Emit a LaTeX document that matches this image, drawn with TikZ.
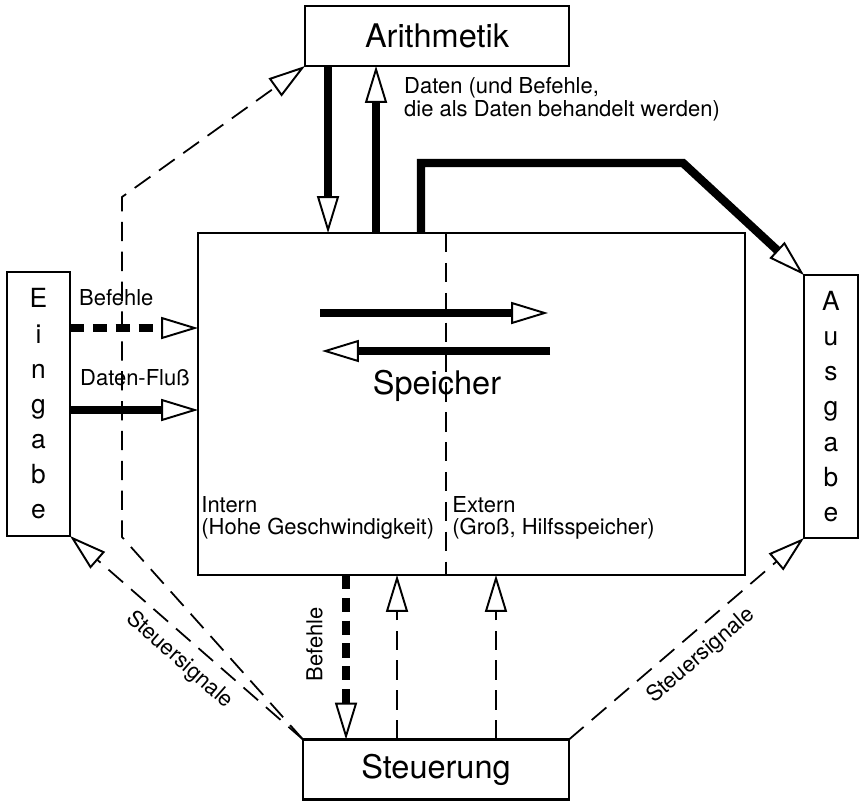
\documentclass[tikz,border=0pt]{standalone}
\usepackage{fontspec}
\setmainfont{TeX Gyre Heros}
\usetikzlibrary{arrows.meta, positioning}

\begin{document}
\begin{tikzpicture}[x=0.02cm, y=-0.02cm,
  unitbox/.style={draw, line width=1.2pt, inner sep=0pt, outer sep=0pt, font=\fontsize{18.5}{20}\selectfont},
  letterbox/.style={draw, line width=1.2pt, inner sep=0pt, outer sep=0pt, align=center, font=\fontsize{15}{20}\selectfont},
  openhead/.style={-{Triangle[length=21pt, width=12.5pt, fill=white, line width=1.1pt]}},
  dataflow/.style={openhead, line width=4.8pt},
  cmdflow/.style={openhead, line width=4.8pt, dash pattern=on 8pt off 5pt},
  ctrlsig/.style={openhead, line width=1pt, dash pattern=on 11pt off 6pt},
  smalltext/.style={inner sep=0pt, align=left, font=\fontsize{12.5}{13}\selectfont}]
  \useasboundingbox (0,0) rectangle (861,801);

  % Einheiten
  \node[unitbox, minimum width=5.28cm, minimum height=1.2cm] (arith) at (437,36) {Arithmetik};
  \node[unitbox, minimum width=10.94cm, minimum height=6.84cm] (speicher) at (471.5,404) {};
  \node[font=\fontsize{18.5}{20}\selectfont] (speichername) at (437,386) {Speicher};
  \node[unitbox, minimum width=5.32cm, minimum height=1.2cm] (steuer) at (436,769.5) {Steuerung};
  \node[letterbox, minimum width=1.26cm, minimum height=5.28cm] (eingabe) at (38.5,404) {E\\i\\n\\g\\a\\b\\e};
  \node[letterbox, minimum width=1.08cm, minimum height=5.26cm] (ausgabe) at (831,406.5) {A\\u\\s\\g\\a\\b\\e};

  % Intern / Extern
  \draw[line width=1pt, dash pattern=on 11pt off 6pt] ([xshift=-0.51cm]speicher.north) -- ([xshift=-0.51cm]speicher.south);
  \node[smalltext, anchor=south west] (intern) at ([xshift=0.06cm, yshift=0.7cm]speicher.south west) {Intern\\(Hohe Geschwindigkeit)};
  \node[smalltext, anchor=south west] (extern) at ([xshift=-0.39cm, yshift=0.7cm]speicher.south) {Extern\\(Groß, Hilfsspeicher)};

  % innerhalb Speicher
  \draw[dataflow] (320,313) -- (548,313);
  \draw[dataflow] (550,351) -- (322,351);

  % Arithmetik <-> Speicher
  \draw[dataflow] ([xshift=-2.18cm]arith.south) -- ([xshift=-2.18cm]arith.south |- speicher.north);
  \draw[dataflow] ([xshift=-1.22cm]arith.south |- speicher.north) -- ([xshift=-1.22cm]arith.south)
    node[smalltext, pos=0.8, right=0.48cm] (datentext) {Daten (und Befehle,\\die als Daten behandelt werden)};

  % Speicher -> Ausgabe
  \draw[dataflow] ([xshift=-1.01cm]speicher.north) |- (683,163) -- (ausgabe.north west);

  % Eingabe -> Speicher
  \draw[cmdflow] ([yshift=1.52cm]eingabe.east) -- ([yshift=1.52cm]eingabe.east -| speicher.west)
    node[smalltext, pos=0, anchor=south west, xshift=0.1cm, yshift=0.36cm] (befehleein) {Befehle};
  \draw[dataflow] ([yshift=-0.12cm]eingabe.east) -- ([yshift=-0.12cm]eingabe.east -| speicher.west)
    node[smalltext, pos=0, anchor=south west, xshift=0.12cm, yshift=0.4cm] (datenfluss) {Daten-Fluß};

  % Speicher <-> Steuerung
  \draw[cmdflow] ([xshift=-1.8cm]steuer.north |- speicher.south) -- ([xshift=-1.8cm]steuer.north)
    node[smalltext, inner sep=0.38cm, pos=0.42, rotate=90, anchor=south] (befehleab) {Befehle};
  \draw[ctrlsig] ([xshift=-0.78cm]steuer.north) -- ([xshift=-0.78cm]steuer.north |- speicher.south);
  \draw[ctrlsig] ([xshift=1.2cm]steuer.north) -- ([xshift=1.2cm]steuer.north |- speicher.south);

  % Steuersignale
  \draw[ctrlsig] (steuer.north west) -- (122,537) -- (122,197) -- (arith.south west);
  \draw[ctrlsig] (steuer.north west) -- (eingabe.south east)
    node[smalltext, inner sep=0.2cm, pos=0.47, below, sloped] (signalein) {Steuersignale};
  \draw[ctrlsig] (steuer.north east) -- (ausgabe.south west)
    node[smalltext, inner sep=0.22cm, midway, below, sloped] (signalaus) {Steuersignale};
\end{tikzpicture}
\end{document}
